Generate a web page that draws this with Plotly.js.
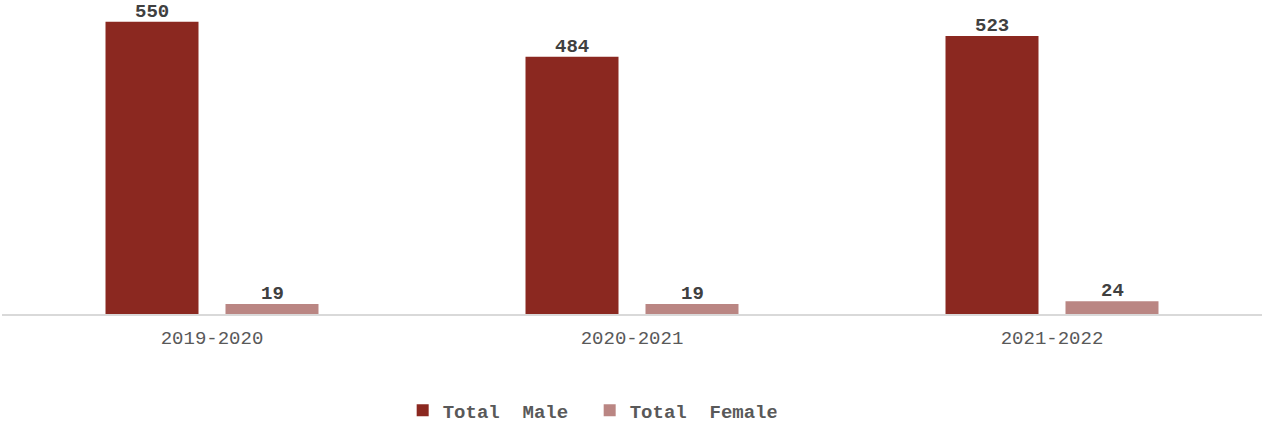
<!DOCTYPE html>
<html>
<head>
<meta charset="utf-8">
<script src="https://cdn.plot.ly/plotly-3.0.1.min.js"></script>
<style>html,body{margin:0;padding:0;background:#fff;}#chart{width:1262px;height:424px;}</style>
</head>
<body>
<div id="chart"></div>
<script>
const categories = ["2019-2020", "2020-2021", "2021-2022"];
const totalMale = [550, 484, 523];
const totalFemale = [19, 19, 24];
const seriesNames = ["Total\u00a0\u00a0Male", "Total\u00a0\u00a0Female"];

const FONT = "'Courier New', 'Liberation Mono', monospace";
const labelFont = {family: FONT, size: 19, color: "#404040", weight: "bold"};

const traces = [
  {
    type: "bar", name: seriesNames[0], x: categories, y: totalMale,
    marker: {color: "#8B2820"}, hoverinfo: "none"
  },
  {
    type: "bar", name: seriesNames[1], x: categories, y: totalFemale,
    marker: {color: "#BA8683"}, hoverinfo: "none"
  }
];

// data labels placed above each bar (offset to the grouped bar centres)
const annotations = [];
[[totalMale, -60], [totalFemale, 60]].forEach(([vals, shift]) => {
  vals.forEach((v, i) => {
    annotations.push({
      x: categories[i], y: v, xref: "x", yref: "y",
      text: String(v), showarrow: false, xanchor: "center", yanchor: "bottom",
      xshift: shift, yshift: -3, font: labelFont
    });
  });
});

const layout = {
  width: 1262, height: 424,
  margin: {l: 2, r: 0, t: 10, b: 110, autoexpand: false},
  paper_bgcolor: "#ffffff", plot_bgcolor: "#ffffff",
  barmode: "group", bargap: 0.4286, bargroupgap: 0.225,
  xaxis: {
    showline: true, linecolor: "#d9d9d9", linewidth: 2,
    showgrid: false, zeroline: false, ticks: "",
    tickfont: {family: FONT, size: 19, color: "#595959"},
    ticklabelstandoff: 5, automargin: false
  },
  yaxis: {range: [0, 572], visible: false, showgrid: false, zeroline: false, automargin: false},
  annotations: annotations,
  showlegend: true,
  legend: {
    orientation: "h", x: 0.318, xanchor: "left", y: -0.255, yanchor: "top",
    font: {family: FONT, size: 19, color: "#595959", weight: "bold"},
    entrywidth: 142, traceorder: "normal"
  }
};

Plotly.newPlot("chart", traces, layout, {displayModeBar: false, staticPlot: true});
</script>
</body>
</html>
